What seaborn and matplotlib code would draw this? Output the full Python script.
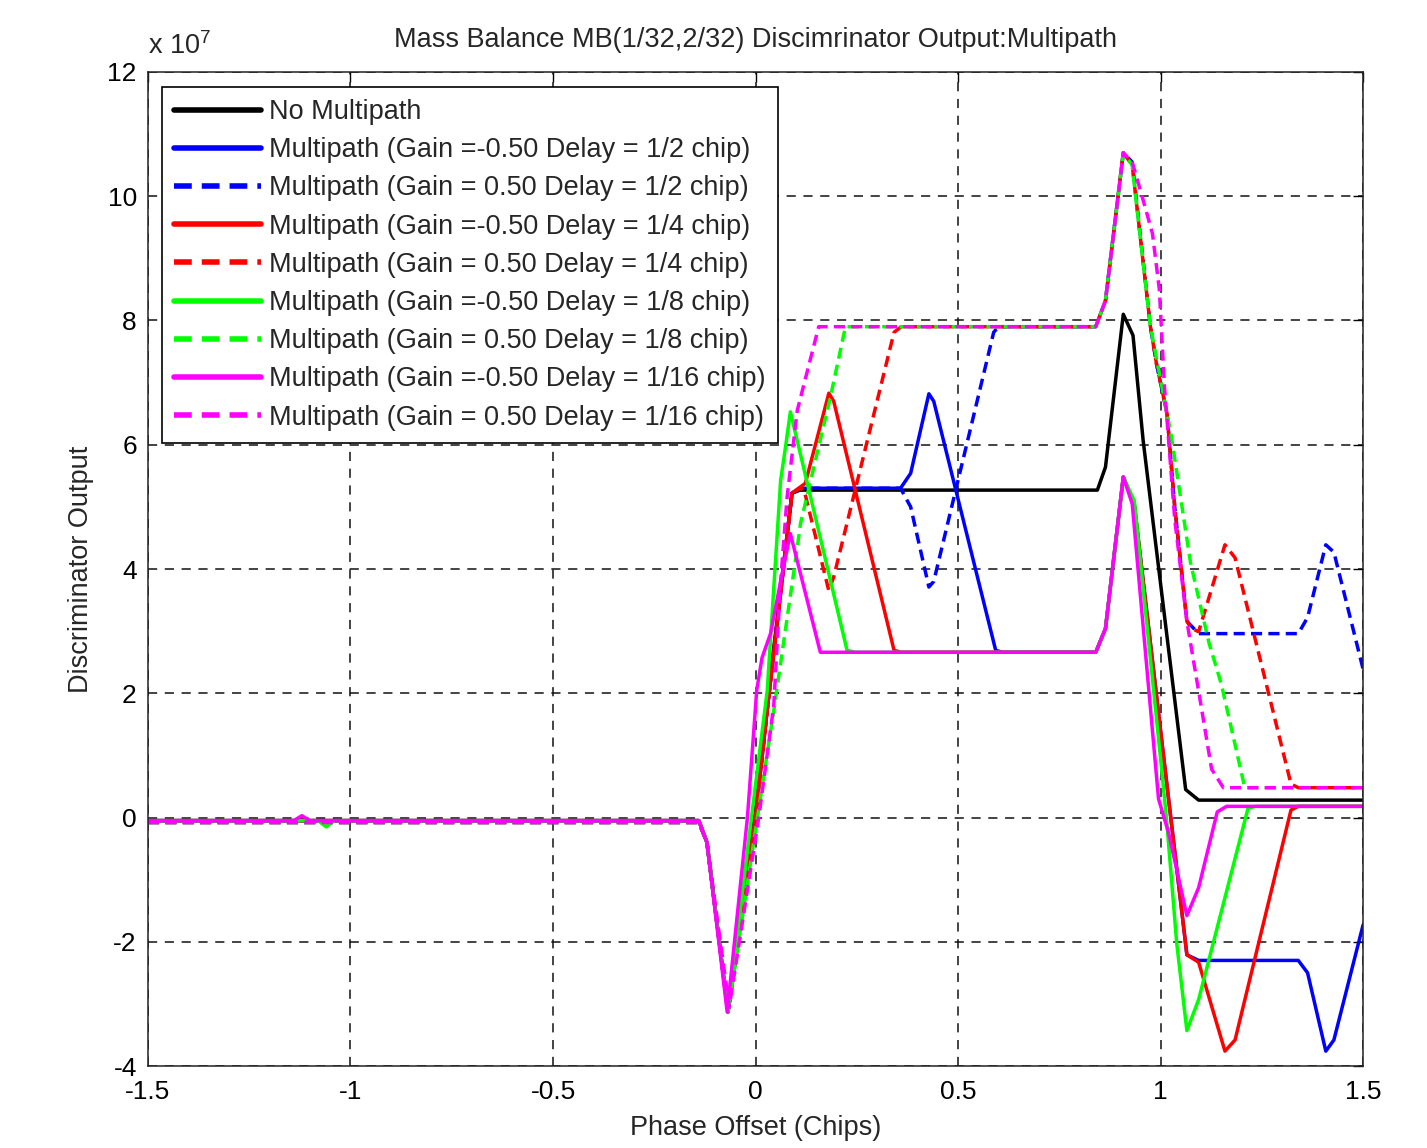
import matplotlib
matplotlib.use("Agg")
import matplotlib.pyplot as plt
from matplotlib import font_manager
import seaborn as sns
import pandas as pd

sns.set_style("white")

# narrow Arial-like face if present, else regular
names = {f.name for f in font_manager.fontManager.ttflist}
if 'Liberation Sans Narrow' in names:
    fam, fs = 'Liberation Sans Narrow', 23
else:
    fam, fs = 'Liberation Sans', 19.5
plt.rcParams['font.family'] = [fam, 'DejaVu Sans']
plt.rcParams['mathtext.fontset'] = 'custom'
plt.rcParams['mathtext.rm'] = fam

# values, y in units of 1e7
black_x = [-1.5, -0.14, -0.12, -0.068, 0.0, 0.03, 0.09, 0.11, 0.844, 0.864, 0.908, 0.932,
           0.957, 0.99, 1.062, 1.094, 1.5]
black_y = [-0.05, -0.05, -0.4, -3.13, 0.1, 1.9, 5.22, 5.27, 5.27, 5.64, 8.1, 7.76,
           6.07, 4.3, 0.45, 0.28, 0.28]

blue_x = [-1.5, -0.14, -0.12, -0.068, 0.0, 0.03, 0.09, 0.11, 0.358, 0.383, 0.428, 0.44,
          0.593, 0.61, 0.84, 0.864, 0.908, 0.935, 1.0, 1.065, 1.094, 1.34, 1.363,
          1.408, 1.428, 1.5]
blue_y = [-0.05, -0.05, -0.4, -3.13, 0.0, 1.8, 5.22, 5.3, 5.3, 5.54, 6.82, 6.7,
          2.69, 2.66, 2.66, 3.04, 5.48, 5.05, 1.4, -2.21, -2.3, -2.3, -2.5,
          -3.76, -3.58, -1.73]

blue_d_x = [-1.5, -0.14, -0.12, -0.068, 0.0, 0.03, 0.09, 0.11, 0.358, 0.383, 0.428, 0.44,
            0.588, 0.6, 0.84, 0.864, 0.908, 0.93, 0.975, 0.99, 1.016, 1.035, 1.065,
            1.094, 1.34, 1.363, 1.408, 1.428, 1.5]
blue_d_y = [-0.08, -0.08, -0.4, -3.13, 0.0, 1.8, 5.22, 5.3, 5.3, 5.0, 3.71, 3.8,
            7.81, 7.9, 7.9, 8.32, 10.7, 10.55, 7.9, 7.3, 6.5, 5.0, 3.16,
            2.96, 2.96, 3.22, 4.39, 4.27, 2.39]

red_x = [-1.5, -0.14, -0.12, -0.068, 0.0, 0.03, 0.09, 0.1, 0.123, 0.181, 0.193, 0.342,
         0.36, 0.84, 0.864, 0.908, 0.935, 1.0, 1.065, 1.094, 1.159, 1.184, 1.322,
         1.34, 1.5]
red_y = [-0.05, -0.05, -0.4, -3.13, 0.0, 1.8, 5.22, 5.27, 5.38, 6.83, 6.7, 2.69,
         2.66, 2.66, 3.04, 5.48, 5.05, 1.4, -2.21, -2.33, -3.76, -3.58, 0.12,
         0.18, 0.18]

red_d_x = [-1.5, -0.14, -0.12, -0.068, 0.0, 0.03, 0.09, 0.11, 0.12, 0.181, 0.193, 0.342,
           0.36, 0.84, 0.864, 0.908, 0.93, 0.975, 0.99, 1.016, 1.035, 1.065, 1.075,
           1.094, 1.159, 1.184, 1.322, 1.34, 1.5]
red_d_y = [-0.08, -0.08, -0.4, -3.13, 0.0, 1.8, 5.22, 5.3, 5.27, 3.65, 3.87, 7.81,
           7.9, 7.9, 8.32, 10.7, 10.5, 7.9, 7.3, 6.5, 5.0, 3.16, 3.05,
           2.99, 4.39, 4.18, 0.54, 0.48, 0.48]

green_x = [-1.5, -1.08, -1.06, -1.04, -0.14, -0.12, -0.068, -0.01, 0.029, 0.062, 0.074,
           0.086, 0.226, 0.245, 0.84, 0.864, 0.908, 0.935, 1.003, 1.016, 1.04, 1.065,
           1.094, 1.216, 1.235, 1.5]
green_y = [-0.05, -0.05, -0.15, -0.05, -0.05, -0.4, -3.13, 0.0, 2.05, 5.43, 5.96,
           6.53, 2.69, 2.66, 2.66, 3.04, 5.48, 5.1, 0.76, -0.12, -2.03, -3.43,
           -2.93, 0.15, 0.18, 0.18]

green_d_x = [-1.5, -0.14, -0.12, -0.068, 0.0, 0.045, 0.1, 0.111, 0.185, 0.222, 0.84,
             0.864, 0.908, 0.93, 0.975, 1.025, 1.074, 1.12, 1.15, 1.208, 1.5]
green_d_y = [-0.08, -0.08, -0.4, -3.13, -0.2, 1.72, 4.2, 4.73, 6.77, 7.9, 7.9,
             8.32, 10.7, 10.5, 7.9, 6.2, 4.1, 2.8, 2.15, 0.48, 0.48]

mag_x = [-1.5, -1.14, -1.12, -1.1, -0.14, -0.12, -0.07, -0.02, 0.003, 0.016, 0.037,
         0.062, 0.086, 0.16, 0.84, 0.864, 0.908, 0.93, 0.995, 1.02, 1.065, 1.094,
         1.14, 1.163, 1.5]
mag_y = [-0.05, -0.05, 0.03, -0.05, -0.05, -0.4, -3.13, 0.0, 2.05, 2.57, 2.96,
         3.8, 4.57, 2.66, 2.66, 3.04, 5.48, 5.05, 0.3, -0.25, -1.58, -1.13,
         0.09, 0.18, 0.18]

mag_d_x = [-1.5, -0.14, -0.12, -0.065, 0.008, 0.045, 0.062, 0.078, 0.103, 0.156, 0.84,
           0.864, 0.908, 0.93, 0.95, 0.98, 0.997, 1.01, 1.035, 1.065, 1.1, 1.126,
           1.155, 1.5]
mag_d_y = [-0.08, -0.08, -0.4, -3.05, 0.0, 1.8, 3.8, 5.16, 6.55, 7.9, 7.9,
           8.32, 10.7, 10.55, 10.1, 9.4, 8.5, 6.9, 4.8, 3.16, 1.8, 0.78,
           0.48, 0.48]

labels = ["No Multipath",
          "Multipath (Gain =-0.50 Delay = 1/2 chip)",
          "Multipath (Gain = 0.50 Delay = 1/2 chip)",
          "Multipath (Gain =-0.50 Delay = 1/4 chip)",
          "Multipath (Gain = 0.50 Delay = 1/4 chip)",
          "Multipath (Gain =-0.50 Delay = 1/8 chip)",
          "Multipath (Gain = 0.50 Delay = 1/8 chip)",
          "Multipath (Gain =-0.50 Delay = 1/16 chip)",
          "Multipath (Gain = 0.50 Delay = 1/16 chip)"]

series = [(black_x, black_y, "#000000", "-"),
          (blue_x, blue_y, "#0000ff", "-"),
          (blue_d_x, blue_d_y, "#0000ff", "--"),
          (red_x, red_y, "#ff0000", "-"),
          (red_d_x, red_d_y, "#ff0000", "--"),
          (green_x, green_y, "#00ff00", "-"),
          (green_d_x, green_d_y, "#00ff00", "--"),
          (mag_x, mag_y, "#ff00ff", "-"),
          (mag_d_x, mag_d_y, "#ff00ff", "--")]

fig = plt.figure(figsize=(14.27, 11.48), dpi=100)
ax = fig.add_axes([0.1037, 0.0714, 0.8515, 0.8659])

for (xs, ys, col, ls), lab in zip(series, labels):
    d = pd.DataFrame({'x': xs, 'y': ys})
    sns.lineplot(data=d, x='x', y='y', ax=ax, color=col, lw=2.5, label=lab,
                 sort=False, estimator=None)
    ax.lines[-1].set_linestyle(ls)
    if ls == "--":
        ax.lines[-1].set_dashes((3.2, 1.8))

ax.set_xlim(-1.5, 1.5)
ax.set_ylim(-4, 12)
ax.set_xticks([-1.5, -1, -0.5, 0, 0.5, 1, 1.5])
ax.set_xticklabels(['-1.5', '-1', '-0.5', '0', '0.5', '1', '1.5'])
ax.set_yticks(range(-4, 13, 2))
ax.set_yticklabels([str(v) for v in range(-4, 13, 2)])
ax.grid(True, color='#111111', linestyle=(0, (6, 5)), lw=1.1)
ax.tick_params(direction='in', top=True, right=True, length=7, width=1,
               labelsize=fs - 0.5, colors='black')
ax.tick_params(axis='x', pad=10)
ax.tick_params(axis='y', pad=8)
for s in ax.spines.values():
    s.set_color('#222222')
    s.set_linewidth(1.1)

ax.set_title("Mass Balance MB(1/32,2/32) Discimrinator Output:Multipath",
             fontsize=fs, pad=18)
ax.set_xlabel("Phase Offset (Chips)", fontsize=fs, labelpad=8)
ax.set_ylabel("Discriminator Output", fontsize=fs, labelpad=10)
ax.text(0.0, 1.012, r"x 10$^{7}$", transform=ax.transAxes, fontsize=fs,
        ha='left', va='bottom')

leg = ax.legend(loc='upper left', bbox_to_anchor=(0.0115, 0.985), borderaxespad=0,
                fontsize=fs, handlelength=3.2, handletextpad=0.3, labelspacing=0.45,
                frameon=True, fancybox=False, edgecolor='black', framealpha=1,
                borderpad=0.45)
leg.get_frame().set_linewidth(1.2)
for h in leg.get_lines():
    h.set_linewidth(4)

plt.savefig('out.png', dpi=100)
